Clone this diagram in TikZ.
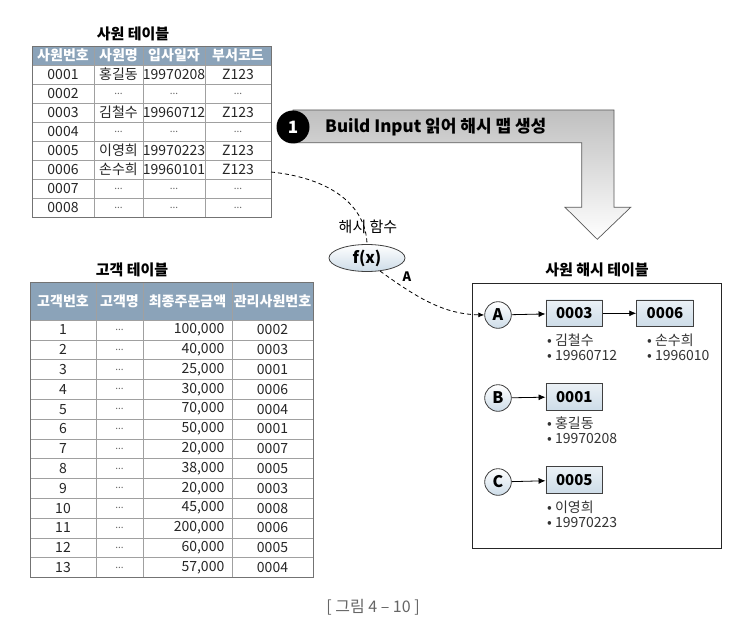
\documentclass[tikz,border=0pt]{standalone}
\usepackage{fontspec}
\setmainfont{Noto Sans CJK KR}
\usetikzlibrary{shapes.geometric,arrows.meta}
\definecolor{headblue}{RGB}{139,163,185}
\definecolor{boxblue}{RGB}{205,220,232}
\definecolor{gridgray}{RGB}{160,160,160}
\newcommand{\skipval}{{\fontsize{10}{11}\selectfont\color{black!60}...}}
\tikzstyle{cell}=[inner sep=0pt, text=black!85, font=\fontsize{14}{15}\selectfont]
\tikzstyle{headcell}=[inner sep=0pt, text=white, font=\bfseries\fontsize{14}{15}\selectfont]
\tikzstyle{title}=[inner sep=0pt, font=\bfseries\fontsize{15}{17}\selectfont]
\tikzstyle{keynode}=[circle, draw=black!75, line width=0.8pt, top color=white, bottom color=boxblue,
	minimum size=26.6pt, inner sep=0pt, font=\bfseries\fontsize{16}{18}\selectfont]
\tikzstyle{recbox}=[rectangle, draw=black!75, line width=0.8pt, top color=boxblue!40, bottom color=boxblue,
	minimum width=56.7pt, minimum height=26.7pt, inner sep=0pt, font=\bfseries\fontsize{15}{17}\selectfont]
\tikzstyle{info}=[anchor=north west, align=left, inner sep=0pt, text=black!80, font=\fontsize{14}{14.5}\selectfont]
\tikzstyle{link}=[line width=0.8pt, -{Latex[length=7pt,width=6pt]}]
\tikzstyle{hashlink}=[line width=0.8pt, dash pattern=on 4pt off 3pt]

\begin{document}
\begin{tikzpicture}[x=1pt, y=-1pt]
	% Background, frame
	\useasboundingbox (0,0) rectangle (755,639);
	\fill[white] (0,0) rectangle (755,639);

	% Employee table
	\node[title] (emp-title) at (133,34) {사원 테이블};
	\fill[headblue] (32,46) rectangle (271,65);
	\foreach \y in {65,84,...,217} {
		\draw[gridgray] (32,\y) -- (271,\y);
	}
	\foreach \x in {94,143,205} {
		\draw[gridgray] (\x,46) -- (\x,217);
	}
	\draw[black!55, line width=0.8pt] (32,46) rectangle (271,217);
	\foreach \x/\t [count=\c] in {63/사원번호,118.5/사원명,174/입사일자,238/부서코드} {
		\node[headcell] (emp-h\c) at (\x,55.5) {\t};
	}
	\foreach \a/\b/\d/\e [count=\r] in {0001/홍길동/19970208/Z123, 0002/\skipval/\skipval/\skipval,
		0003/김철수/19960712/Z123, 0004/\skipval/\skipval/\skipval, 0005/이영희/19970223/Z123,
		0006/손수희/19960101/Z123, 0007/\skipval/\skipval/\skipval, 0008/\skipval/\skipval/\skipval} {
		\pgfmathsetmacro\y{55.5+19*\r}
		\node[cell] (emp-\r-1) at (63,\y) {\a};
		\node[cell] (emp-\r-2) at (118.5,\y) {\b};
		\node[cell] (emp-\r-3) at (174,\y) {\d};
		\node[cell] (emp-\r-4) at (238,\y) {\e};
	}
	\coordinate (emp-row6) at (271,172);

	% Customer table
	\node[title] (cust-title) at (132,270) {고객 테이블};
	\fill[headblue] (30,282) rectangle (313,320);
	\foreach \r in {0,...,13} {
		\draw[gridgray] (30,{320+19.8*\r}) -- (313,{320+19.8*\r});
	}
	\foreach \x in {96,143,232} {
		\draw[gridgray] (\x,282) -- (\x,577.4);
	}
	\draw[black!55, line width=0.8pt] (30,282) rectangle (313,577.4);
	\foreach \x/\t [count=\c] in {63/고객번호,119.5/고객명,187.5/최종주문금액,272.5/관리사원번호} {
		\node[headcell] (cust-h\c) at (\x,301) {\t};
	}
	\foreach \a/\b/\d [count=\r] in {1/100{,}000/0002, 2/40{,}000/0003, 3/25{,}000/0001, 4/30{,}000/0006,
		5/70{,}000/0004, 6/50{,}000/0001, 7/20{,}000/0007, 8/38{,}000/0005, 9/20{,}000/0003,
		10/45{,}000/0008, 11/200{,}000/0006, 12/60{,}000/0005, 13/57{,}000/0004} {
		\pgfmathsetmacro\y{320+19.8*\r-9.9}
		\node[cell] (cust-\r-1) at (63,\y) {\a};
		\node[cell] (cust-\r-2) at (119.5,\y) {\skipval};
		\node[cell, anchor=east] (cust-\r-3) at (224.5,\y) {\b};
		\node[cell] (cust-\r-4) at (272.5,\y) {\d};
	}

	% Step arrow
	\draw[black!65, line width=0.7pt, top color=gray!50, bottom color=white]
		(293,110) -- (614,110) -- (614,207.3) -- (630.7,207.3) -- (597.3,239.3)
		-- (565,207.3) -- (581.7,207.3) -- (581.7,142.7) -- (293,142.7) -- cycle;
	\node[circle, fill=black, minimum size=33pt, inner sep=0pt, text=white,
		font=\bfseries\fontsize{17}{19}\selectfont] (step1) at (293,127) {1};
	\node[anchor=west, inner sep=0pt, font=\bfseries\fontsize{17}{19}\selectfont] (step1-text)
		at (325,127) {Build Input 읽어 해시 맵 생성};

	% Hash function
	\node[ellipse, draw=black!75, line width=0.8pt, top color=white, bottom color=boxblue,
		minimum width=76pt, minimum height=27pt, inner sep=0pt,
		font=\bfseries\fontsize{16}{18}\selectfont] (fx) at (367,258) {f(x)};
	\node[inner sep=0pt, font=\fontsize{15}{17}\selectfont] (fx-label) at (368,227) {해시 함수};

	% Hash table
	\node[title] (hash-title) at (597,270) {사원 해시 테이블};
	\draw[black!85, line width=1pt] (472,283) rectangle (721,548);
	\node[keynode] (key-A) at (498,315) {A};
	\node[keynode] (key-B) at (498,398) {B};
	\node[keynode] (key-C) at (498,482) {C};
	\node[recbox] (rec-0003) at (574.3,313.3) {0003};
	\node[recbox] (rec-0006) at (665,313.3) {0006};
	\node[recbox] (rec-0001) at (574.3,396.7) {0001};
	\node[recbox] (rec-0005) at (574.3,480) {0005};
	\foreach \k/\x/\y/\n/\d in {0003/547/334/김철수/19960712, 0006/647/334/손수희/1996010,
		0001/547/417/홍길동/19970208, 0005/547/501/이영희/19970223} {
		\node[info] (info-\k) at (\x,\y) {• \n\\• \d};
	}

	% Links
	\draw[link] (key-A) -- (rec-0003);
	\draw[link] (rec-0003) -- (rec-0006);
	\draw[link] (key-B) -- (rec-0001);
	\draw[link] (key-C) -- (rec-0005);
	\draw[hashlink] (emp-row6) .. controls (330,178) and (366,205) .. (fx.north);
	\draw[hashlink, -{Latex[length=6pt,width=5pt]}] (fx.-45) .. controls (420,300) and (445,314) .. (key-A.west);
	\node[inner sep=0pt, font=\bfseries\fontsize{13}{15}\selectfont] (hash-A) at (407,277) {A};

	% Caption
	\node[inner sep=0pt, text=black!60, font=\fontsize{16}{18}\selectfont] (caption) at (373,607) {[ 그림 4 – 10 ]};
\end{tikzpicture}
\end{document}
